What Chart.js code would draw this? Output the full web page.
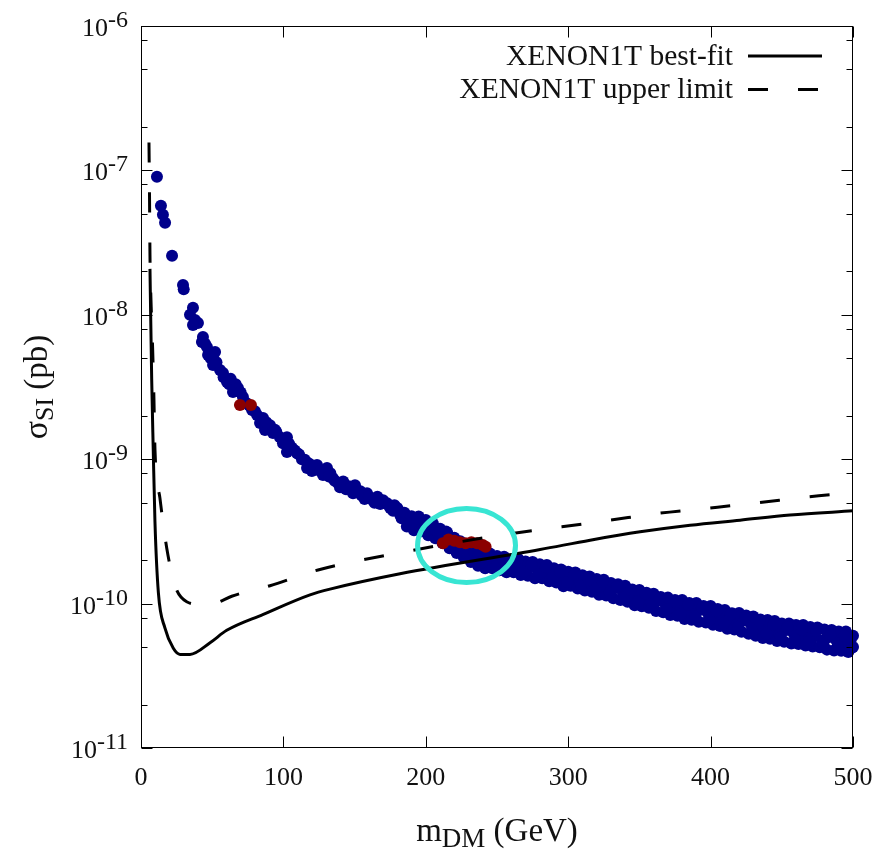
<!DOCTYPE html>
<html><head><meta charset="utf-8">
<script src="https://cdn.jsdelivr.net/npm/chart.js@4.4.1/dist/chart.umd.min.js"></script>
<style>html,body{margin:0;padding:0;background:#fff}canvas{display:block}</style>
</head><body>
<canvas id="c" width="882" height="853"></canvas>
<script>
// ---- data ----
const xTicks = [0, 100, 200, 300, 400, 500];
const yDecades = [-6, -7, -8, -9, -10, -11];
const minorMantissas = [2, 5, 8];

const seriesLabels = ['XENON1T best-fit', 'XENON1T upper limit'];

const solidX = [6.3, 7.5, 8.6, 9.8, 12.2, 16.9, 22.7, 27.4, 34.4, 48.5, 60.2, 85.9, 118.7, 132.7, 181.9, 280.3, 315.4, 350.5, 385.6, 420.7, 455.8, 500];
const solidY = [2.08e-8, 3.6e-9, 1.16e-9, 3.69e-10, 1.19e-10, 6.74e-11, 4.9e-11, 4.45e-11, 4.45e-11, 5.36e-11, 6.53e-11, 8.43e-11, 1.15e-10, 1.26e-10, 1.61e-10, 2.37e-10, 2.75e-10, 3.14e-10, 3.49e-10, 3.78e-10, 4.1e-10, 4.39e-10];

const dashX = [5.6, 6.0, 6.3, 7.0, 8.2, 9.1, 9.8, 13.3, 18.0, 23.9, 32.1, 41.4, 52.0, 63.7, 90.6, 124.3, 191, 260.4, 295.5, 329.4, 364.5, 398.2, 433.3, 468.4, 500];
const dashY = [1.56e-7, 6.26e-8, 2.6e-8, 1.27e-8, 5.71e-9, 2.57e-9, 1.17e-9, 5.37e-10, 2.45e-10, 1.33e-10, 1.03e-10, 9.89e-11, 1.005e-10, 1.124e-10, 1.33e-10, 1.71e-10, 2.34e-10, 3.06e-10, 3.4e-10, 3.78e-10, 4.23e-10, 4.58e-10, 4.99e-10, 5.49e-10, 5.85e-10];

// blue scan points: steep upper branch
const blueUpperX = [
 11.2, 14.0, 15.4, 16.9, 21.8, 29.5, 30.0, 36.5, 34.4, 37.9, 40.0, 36.5, 43.5, 42.8, 46.3, 52.0, 47.1, 50.6, 55.5, 57.6,
 60.4, 66.5, 68.1, 64.6, 71.6, 74.0, 78.0, 81.5, 85.7, 83.6, 90.6, 87.1, 92.7, 97.6, 102.5, 99.7, 106.0, 102.5, 109.6, 113.0,
 117.3, 116.6, 120.0, 123.6, 127.8, 130.6, 133.0, 134.8, 139.7, 142.0, 146.0, 148.9, 150.3, 154.0, 157.0, 158.7, 162.9, 166.0, 168.0, 172.8,
 175.0, 178.0, 181.0, 182.0,
 45, 49, 53, 58, 62, 63, 70, 76, 80, 88, 94,
 95, 100, 104, 108, 111, 115, 119, 122, 126, 129, 132, 136, 138, 141, 144, 147, 151, 155, 160, 164, 170, 174, 177, 180, 183
];
const blueUpperY = [
 9.04e-8, 5.69e-8, 4.93e-8, 4.34e-8, 2.56e-8, 1.61e-8, 1.50e-8, 1.12e-8, 1.00e-8, 9.22e-9, 8.79e-9, 8.51e-9, 7.02e-9, 6.49e-9, 5.99e-9, 5.53e-9, 5.27e-9, 4.49e-9, 4.15e-9, 3.96e-9,
 3.42e-9, 3.30e-9, 3.11e-9, 2.92e-9, 2.70e-9, 2.45e-9, 2.19e-9, 2.02e-9, 1.93e-9, 1.78e-9, 1.72e-9, 1.59e-9, 1.52e-9, 1.42e-9, 1.42e-9, 1.29e-9, 1.20e-9, 1.12e-9, 1.10e-9, 1.00e-9,
 9.40e-10, 8.68e-10, 8.30e-10, 9.10e-10, 7.76e-10, 8.68e-10, 8.00e-10, 7.39e-10, 6.40e-10, 7.00e-10, 6.50e-10, 5.82e-10, 6.61e-10, 6.00e-10, 5.30e-10, 5.82e-10, 5.20e-10, 5.50e-10, 4.90e-10, 4.96e-10,
 4.60e-10, 4.80e-10, 4.40e-10, 4.10e-10,
 6.3e-9, 5.0e-9, 4.7e-9, 3.7e-9, 3.3e-9, 3.6e-9, 2.9e-9, 2.35e-9, 2.15e-9, 1.8e-9, 1.6e-9,
 1.55e-9, 1.35e-9, 1.28e-9, 1.15e-9, 1.08e-9, 9.9e-10, 9.2e-10, 8.7e-10, 8.3e-10, 8.0e-10, 7.6e-10, 7.1e-10, 6.9e-10, 6.6e-10, 6.2e-10, 6.3e-10, 5.9e-10, 5.6e-10, 5.5e-10, 5.0e-10, 5.2e-10, 4.8e-10, 4.4e-10, 4.6e-10, 3.9e-10
];

// blue scan points: dense band, 185-500 GeV
const blueBandX = [
 185, 186.7, 188.4, 190, 191.7, 193.4, 195, 196.7, 198.4, 200, 201.7, 203.4, 205, 206.7, 208.4, 210, 211.7, 213.4,
 215, 216.7, 218.4, 220, 221.7, 223.4, 225, 226.7, 228.4, 230, 231.7, 233.4, 235, 236.7, 238.4, 240, 241.7, 243.4,
 245, 246.7, 248.4, 250, 251.7, 253.4, 255, 256.7, 258.4, 260, 261.7, 263.4, 265, 266.7, 268.4, 270, 271.7, 273.4,
 275, 276.7, 278.4, 280, 281.7, 283.4, 285, 286.7, 288.4, 290, 291.7, 293.4, 295, 296.7, 298.4, 300, 301.7, 303.4,
 305, 306.7, 308.4, 310, 311.7, 313.4, 315, 316.7, 318.4, 320, 321.7, 323.4, 325, 326.7, 328.4, 330, 331.7, 333.4,
 335, 336.7, 338.4, 340, 341.7, 343.4, 345, 346.7, 348.4, 350, 351.7, 353.4, 355, 356.7, 358.4, 360, 361.7, 363.4,
 365, 366.7, 368.4, 370, 371.7, 373.4, 375, 376.7, 378.4, 380, 381.7, 383.4, 385, 386.7, 388.4, 390, 391.7, 393.4,
 395, 396.7, 398.4, 400, 401.7, 403.4, 405, 406.7, 408.4, 410, 411.7, 413.4, 415, 416.7, 418.4, 420, 421.7, 423.4,
 425, 426.7, 428.4, 430, 431.7, 433.4, 435, 436.7, 438.4, 440, 441.7, 443.4, 445, 446.7, 448.4, 450, 451.7, 453.4,
 455, 456.7, 458.4, 460, 461.7, 463.4, 465, 466.7, 468.4, 470, 471.7, 473.4, 475, 476.7, 478.4, 480, 481.7, 483.4,
 485, 486.7, 488.4, 490, 491.7, 493.4, 495, 496.7, 498.4, 500, 500
];
const blueBandY = [
 4.26e-10, 3.42e-10, 3.80e-10, 4.03e-10, 3.22e-10, 3.55e-10, 4.01e-10, 3.17e-10, 3.63e-10, 3.79e-10, 2.97e-10, 3.38e-10, 3.59e-10, 2.84e-10, 3.06e-10, 3.30e-10, 2.63e-10, 3.01e-10,
 3.11e-10, 2.42e-10, 2.75e-10, 2.86e-10, 2.24e-10, 2.50e-10, 2.59e-10, 2.09e-10, 2.40e-10, 2.41e-10, 1.94e-10, 2.15e-10, 2.33e-10, 1.83e-10, 2.12e-10, 2.24e-10, 1.76e-10, 1.96e-10,
 2.22e-10, 1.76e-10, 1.99e-10, 2.14e-10, 1.70e-10, 1.89e-10, 2.11e-10, 1.65e-10, 1.93e-10, 2.03e-10, 1.65e-10, 1.83e-10, 2.04e-10, 1.58e-10, 1.74e-10, 1.96e-10, 1.56e-10, 1.80e-10,
 1.94e-10, 1.50e-10, 1.72e-10, 1.87e-10, 1.50e-10, 1.62e-10, 1.85e-10, 1.43e-10, 1.67e-10, 1.76e-10, 1.40e-10, 1.57e-10, 1.72e-10, 1.32e-10, 1.49e-10, 1.66e-10, 1.33e-10, 1.52e-10,
 1.64e-10, 1.27e-10, 1.44e-10, 1.57e-10, 1.23e-10, 1.36e-10, 1.54e-10, 1.21e-10, 1.40e-10, 1.48e-10, 1.15e-10, 1.32e-10, 1.46e-10, 1.14e-10, 1.25e-10, 1.39e-10, 1.09e-10, 1.28e-10,
 1.36e-10, 1.06e-10, 1.20e-10, 1.33e-10, 1.03e-10, 1.13e-10, 1.25e-10, 9.74e-11, 1.15e-10, 1.24e-10, 9.59e-11, 1.09e-10, 1.19e-10, 9.35e-11, 1.02e-10, 1.17e-10, 8.87e-11, 1.05e-10,
 1.11e-10, 8.71e-11, 9.90e-11, 1.10e-10, 8.35e-11, 9.41e-11, 1.06e-10, 8.23e-11, 9.63e-11, 1.06e-10, 7.83e-11, 9.10e-11, 1.01e-10, 7.74e-11, 8.63e-11, 1.01e-10, 7.48e-11, 9.05e-11,
 9.61e-11, 7.40e-11, 8.50e-11, 9.63e-11, 7.14e-11, 8.05e-11, 9.17e-11, 6.99e-11, 8.28e-11, 9.02e-11, 6.69e-11, 7.78e-11, 8.59e-11, 6.61e-11, 7.30e-11, 8.61e-11, 6.38e-11, 7.64e-11,
 8.27e-11, 6.18e-11, 7.19e-11, 8.14e-11, 5.99e-11, 6.75e-11, 7.75e-11, 5.78e-11, 7.00e-11, 7.69e-11, 5.70e-11, 6.63e-11, 7.57e-11, 5.50e-11, 6.21e-11, 7.27e-11, 5.44e-11, 6.57e-11,
 7.28e-11, 5.29e-11, 6.22e-11, 7.10e-11, 5.26e-11, 5.94e-11, 7.10e-11, 5.12e-11, 6.20e-11, 6.88e-11, 5.04e-11, 5.93e-11, 6.83e-11, 4.98e-11, 5.56e-11, 6.61e-11, 4.80e-11, 5.88e-11,
 6.56e-11, 4.73e-11, 5.56e-11, 6.41e-11, 4.71e-11, 5.32e-11, 6.41e-11, 4.62e-11, 5.59e-11, 6.00e-11, 5.00e-11
];

// extra band points (fill between the rows above)
const blueFillX = [189.2, 194.2, 199.2, 204.2, 209.2, 214.2, 219.2, 224.2, 229.2, 234.2, 239.2, 244.2, 249.2, 254.2, 259.2, 264.2, 269.2, 274.2, 279.2, 284.2,
 289.2, 294.2, 299.2, 304.2, 309.2, 314.2, 319.2, 324.2, 329.2, 334.2, 339.2, 344.2, 349.2, 354.2, 359.2, 364.2, 369.2, 374.2, 379.2, 384.2,
 389.2, 394.2, 399.2, 404.2, 409.2, 414.2, 419.2, 424.2, 429.2, 434.2, 439.2, 444.2, 449.2, 454.2, 459.2, 464.2, 469.2, 474.2, 479.2, 484.2,
 489.2, 494.2, 499.2];
const blueFillY = [3.57e-10, 3.88e-10, 3.27e-10, 3.58e-10, 2.93e-10, 3.16e-10, 2.56e-10, 2.70e-10, 2.19e-10, 2.28e-10, 1.92e-10, 2.14e-10, 1.81e-10, 2.02e-10, 1.72e-10, 1.96e-10, 1.66e-10, 1.86e-10, 1.60e-10, 1.79e-10,
 1.51e-10, 1.66e-10, 1.41e-10, 1.58e-10, 1.34e-10, 1.48e-10, 1.26e-10, 1.41e-10, 1.19e-10, 1.31e-10, 1.10e-10, 1.24e-10, 1.04e-10, 1.17e-10, 9.66e-11, 1.09e-10, 9.11e-11, 1.04e-10, 8.51e-11, 9.83e-11,
 8.10e-11, 9.40e-11, 7.74e-11, 8.96e-11, 7.32e-11, 8.40e-11, 6.92e-11, 8.01e-11, 6.54e-11, 7.59e-11, 6.19e-11, 7.16e-11, 5.89e-11, 6.89e-11, 5.66e-11, 6.61e-11, 5.48e-11, 6.46e-11, 5.27e-11, 6.10e-11,
 5.06e-11, 5.97e-11, 4.94e-11];

const redX = [69.5, 77.2, 212, 216, 220, 224, 228, 232, 236, 240, 242];
const redY = [2.37e-9, 2.37e-9, 2.62e-10, 2.78e-10, 2.72e-10, 2.66e-10, 2.62e-10, 2.66e-10, 2.62e-10, 2.55e-10, 2.48e-10];

// highlighted region (ellipse bounds, data units)
const ellipseX = [194.2, 263.0];
const ellipseY = [1.40e-10, 4.556e-10];

// ---- helpers ----
const pts = (xs, ys) => xs.map((x, i) => ({x, y: ys[i]}));
const SERIF = '"Liberation Serif", "Times New Roman", serif';
const C = {L: 141, R: 853, T: 26, B: 748, W: 882, H: 853};

const framePlugin = {
  id: 'framePlugin',
  afterDatasetsDraw(chart) {
    const {ctx, scales: {x, y}} = chart;
    const x0 = x.getPixelForValue(ellipseX[0]), x1 = x.getPixelForValue(ellipseX[1]);
    const y0 = y.getPixelForValue(ellipseY[0]), y1 = y.getPixelForValue(ellipseY[1]);
    ctx.save();
    ctx.beginPath();
    ctx.ellipse((x0 + x1) / 2, (y0 + y1) / 2, Math.abs(x1 - x0) / 2, Math.abs(y0 - y1) / 2, 0, 0, Math.PI * 2);
    ctx.lineWidth = 5;
    ctx.strokeStyle = '#38e5d3';
    ctx.stroke();
    ctx.restore();
  },
  afterDraw(chart) {
    const {ctx, chartArea: a, scales: {x, y}} = chart;
    ctx.save();
    ctx.strokeStyle = '#000';
    ctx.lineWidth = 1;
    const L = Math.round(a.left) + 0.5, R = Math.round(a.right) - 0.5;
    const T = Math.round(a.top) + 0.5, B = Math.round(a.bottom) - 0.5;
    ctx.strokeRect(L, T, R - L, B - T);
    ctx.beginPath();
    xTicks.forEach(v => {
      const px = Math.round(x.getPixelForValue(v)) + 0.5;
      ctx.moveTo(px, B); ctx.lineTo(px, B - 11);
      ctx.moveTo(px, T); ctx.lineTo(px, T + 11);
    });
    yDecades.forEach(d => {
      const py = Math.round(y.getPixelForValue(Math.pow(10, d))) + 0.5;
      ctx.moveTo(L, py); ctx.lineTo(L + 11, py);
      ctx.moveTo(R, py); ctx.lineTo(R - 11, py);
      if (d > -11) {
        minorMantissas.forEach(m => {
          const pm = Math.round(y.getPixelForValue(m * Math.pow(10, d - 1))) + 0.5;
          ctx.moveTo(L, pm); ctx.lineTo(L + 6, pm);
          ctx.moveTo(R, pm); ctx.lineTo(R - 6, pm);
        });
      }
    });
    ctx.stroke();

    ctx.fillStyle = '#111';
    ctx.textBaseline = 'alphabetic';

    // x tick labels
    ctx.textAlign = 'center';
    ctx.font = '26px ' + SERIF;
    xTicks.forEach(v => {
      ctx.fillText(String(v), x.getPixelForValue(v), 785);
    });

    // y tick labels 10^n
    ctx.textAlign = 'left';
    yDecades.forEach(d => {
      const py = y.getPixelForValue(Math.pow(10, d));
      const base = '10', sup = String(d);
      ctx.font = '26px ' + SERIF;
      const wb = ctx.measureText(base).width;
      ctx.font = '24px ' + SERIF;
      const ws = ctx.measureText(sup).width;
      const xs = 128 - wb - ws;
      ctx.font = '26px ' + SERIF;
      ctx.fillText(base, xs, py + 10);
      ctx.font = '24px ' + SERIF;
      ctx.fillText(sup, xs + wb, py + 1);
    });

    const drawSub = (parts, cx, by) => {
      let tot = 0;
      parts.forEach(p => { ctx.font = p.size + 'px ' + SERIF; p.w = ctx.measureText(p.t).width; tot += p.w; });
      let xx = cx - tot / 2;
      parts.forEach(p => { ctx.font = p.size + 'px ' + SERIF; ctx.fillText(p.t, xx, by + p.dy); xx += p.w; });
    };
    // x axis title
    drawSub([{t: 'm', size: 33, dy: 0}, {t: 'DM', size: 27, dy: 6}, {t: ' (GeV)', size: 33, dy: 0}], (a.left + a.right) / 2, 841);

    // y axis title
    ctx.save();
    ctx.translate(47, (a.top + a.bottom) / 2);
    ctx.rotate(-Math.PI / 2);
    drawSub([{t: 'σ', size: 34, dy: 0}, {t: 'SI', size: 26, dy: 6}, {t: ' (pb)', size: 33, dy: 0}], 0, 0);
    ctx.restore();

    // legend (inside, top right)
    const items = chart.data.datasets.filter(ds => ds.label);
    items.forEach((ds, i) => {
      const cy = 56 + i * 33.5;
      ctx.font = '29.5px ' + SERIF;
      ctx.textAlign = 'right';
      ctx.textBaseline = 'middle';
      ctx.fillStyle = '#111';
      ctx.fillText(ds.label, 733, cy + 1);
      ctx.beginPath();
      ctx.setLineDash(ds.borderDash || []);
      ctx.lineWidth = ds.borderWidth;
      ctx.strokeStyle = ds.borderColor;
      ctx.moveTo(748, cy);
      ctx.lineTo(ds.borderDash ? 818 : 822, cy);
      ctx.stroke();
      ctx.setLineDash([]);
    });
    ctx.restore();
  }
};

new Chart(document.getElementById('c'), {
  type: 'scatter',
  data: {
    datasets: [
      {label: seriesLabels[0], data: pts(solidX, solidY), showLine: true, borderColor: '#000', borderWidth: 3,
       pointRadius: 0, cubicInterpolationMode: 'monotone', borderJoinStyle: 'round'},
      {label: seriesLabels[1], data: pts(dashX, dashY), showLine: true, borderColor: '#000', borderWidth: 3,
       borderDash: [20, 30], pointRadius: 0, cubicInterpolationMode: 'monotone', borderJoinStyle: 'round'},
      {data: pts(redX, redY), pointRadius: 6, pointBorderWidth: 0, pointBackgroundColor: '#8b0000', backgroundColor: '#8b0000', clip: 10},
      {data: pts(blueUpperX, blueUpperY).concat(pts(blueBandX, blueBandY), pts(blueFillX, blueFillY)),
       pointRadius: 6, pointBorderWidth: 0, pointBackgroundColor: '#00008b', backgroundColor: '#00008b', clip: 10}
    ]
  },
  options: {
    responsive: false,
    animation: false,
    devicePixelRatio: 1,
    layout: {padding: {top: C.T, right: C.W - C.R, left: 0, bottom: 0}},
    plugins: {legend: {display: false}, tooltip: {enabled: false}},
    scales: {
      x: {
        type: 'linear', min: 0, max: 500,
        afterFit: s => { s.height = C.H - C.B; },
        grid: {display: false, drawTicks: false},
        border: {display: false},
        ticks: {display: false}
      },
      y: {
        type: 'logarithmic', min: 1e-11, max: 1e-6,
        afterFit: s => { s.width = C.L; },
        grid: {display: false, drawTicks: false},
        border: {display: false},
        ticks: {display: false}
      }
    }
  },
  plugins: [framePlugin]
});
</script>
</body></html>
